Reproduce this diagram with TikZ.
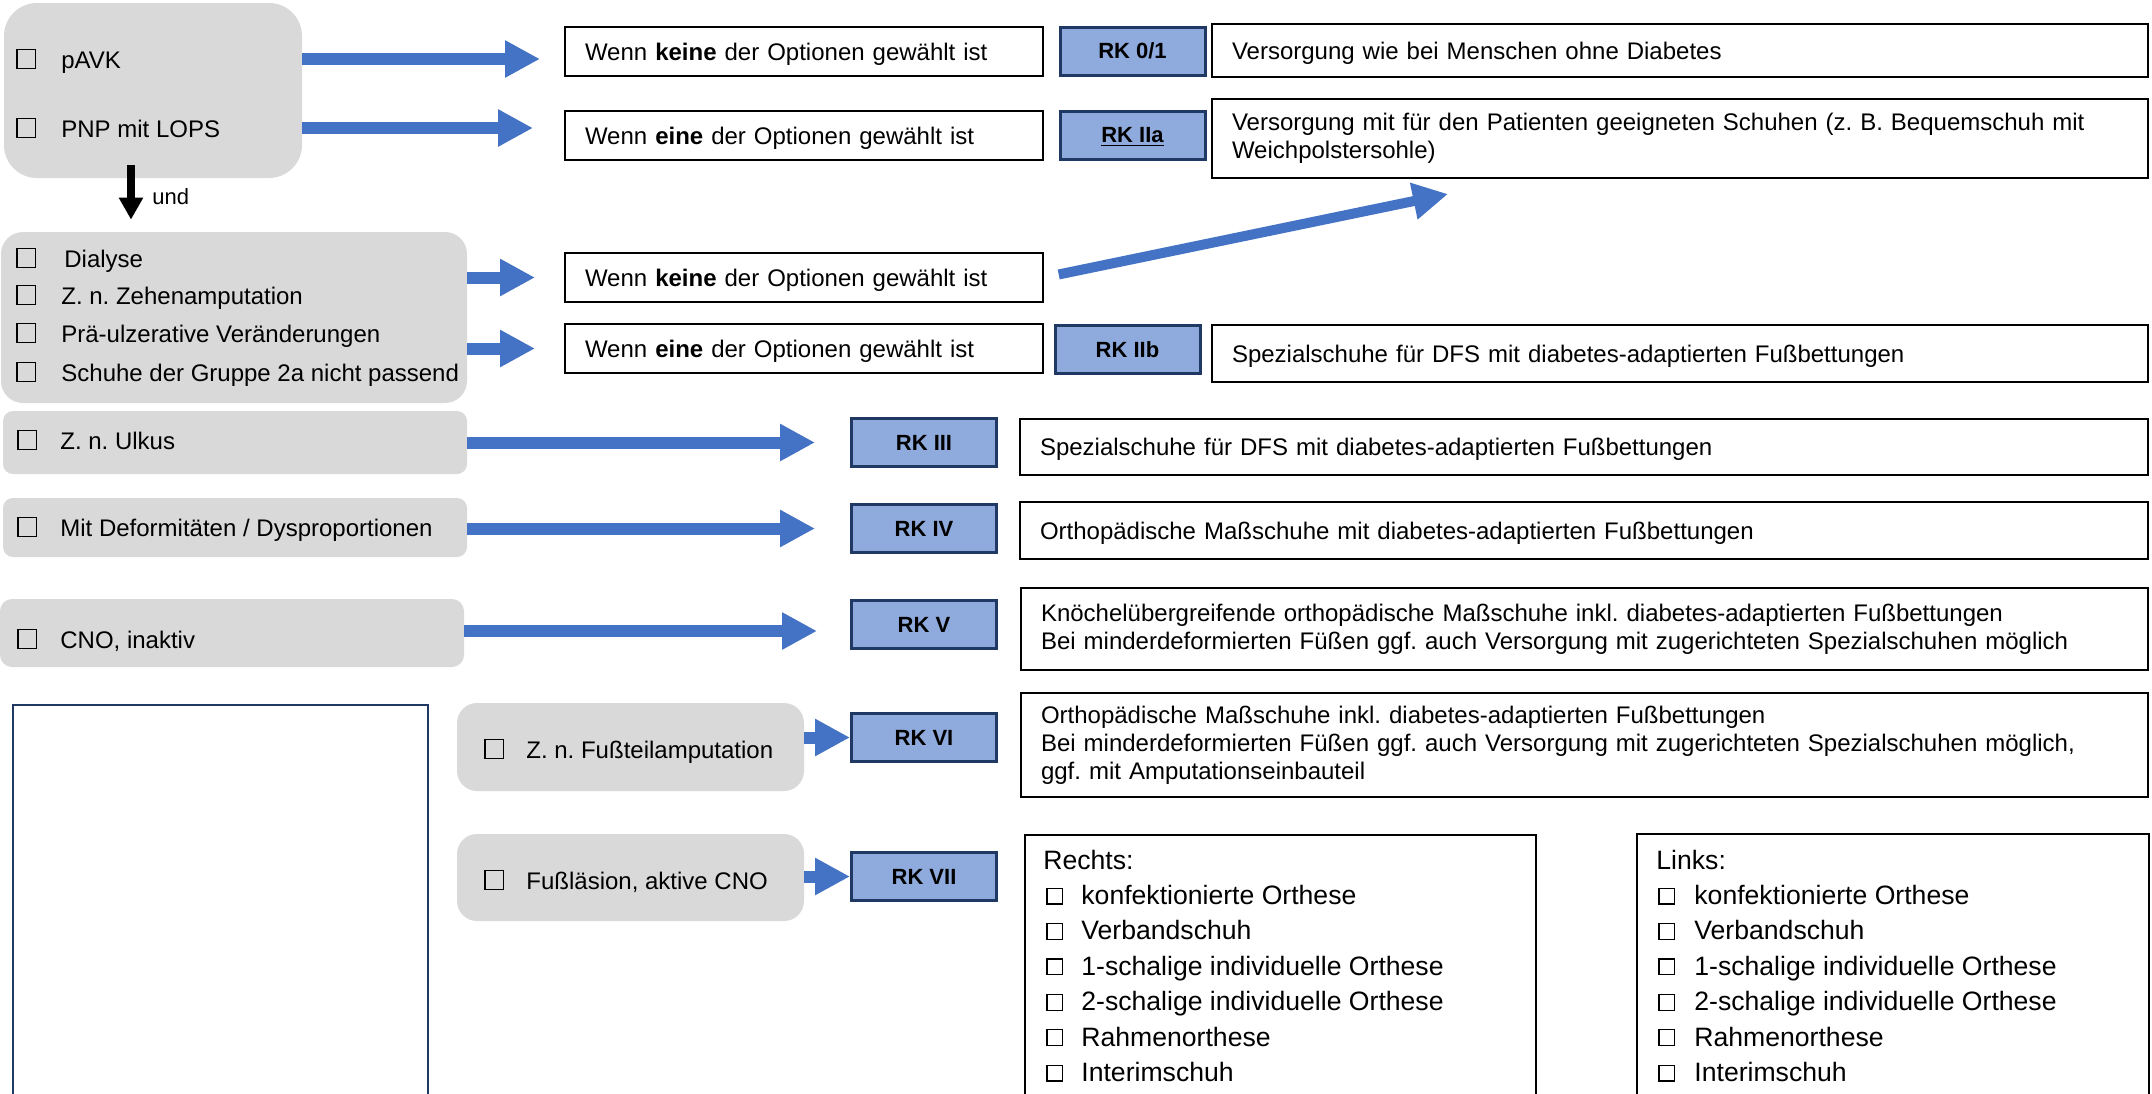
\documentclass[tikz,border=0pt]{standalone}
\usepackage{fontspec}
\setmainfont{Liberation Sans}
\usepackage{tikz}
\usepackage{xcolor}
\usetikzlibrary{arrows.meta}

\definecolor{panelgray}{HTML}{D9D9D9}
\definecolor{flowblue}{HTML}{4472C4}
\definecolor{rkfill}{HTML}{8FAADC}
\definecolor{rkline}{HTML}{1F3864}

\newcommand{\chk}[1][10pt]{{\setlength{\fboxsep}{0pt}\setlength{\fboxrule}{0.6pt}\fbox{\rule{0pt}{\dimexpr#1-1.2pt\relax}\hspace{\dimexpr#1-1.2pt\relax}}}}

\tikzset{
  panel/.style={fill=panelgray, rounded corners=#1, inner sep=0pt},
  optline/.style={anchor=base west, inner sep=0pt, text height=10pt, text depth=1pt},
  listopt/.style={anchor=base west, inner sep=0pt, font=\fontsize{13.3}{16}\selectfont},
  infobox/.style={draw, line width=1pt, inner xsep=10pt, inner ysep=0pt, text width=#1, align=left},
  oneline/.style={infobox=#1, text depth=0pt},
  rkbox/.style={draw=rkline, fill=rkfill, line width=1.5pt, minimum width=72.5pt, minimum height=24pt, inner sep=0pt, text depth=0pt, font=\fontsize{11}{13}\selectfont\bfseries},
  flow/.style={draw=flowblue, line width=6pt, -{Triangle[length=17.5pt, width=17.5pt]}},
}

\frenchspacing
\begin{document}
\begin{tikzpicture}[x=0.5pt, y=-0.5pt, font=\fontsize{12}{14}\selectfont]
  \useasboundingbox (0,0) rectangle (2152,1093);
  \clip (0,0) rectangle (2152,1093);

  % Risikogruppen links
  \node[panel=16.5pt, minimum width=149pt, minimum height=87.5pt] (top) at (153,90.5) {};
  \node[optline] (pavk) at (16,68) {\chk\hspace{12.5pt}pAVK};
  \node[optline] (pnp) at (16,137) {\chk\hspace{12.5pt}PNP mit LOPS};

  \node[panel=11pt, minimum width=233pt, minimum height=85.5pt] (risk) at (234,317.5) {};
  \node[optline] (dialyse) at (16,267) {\chk\hspace{14pt}Dialyse};
  \node[optline] (zehen) at (16,304) {\chk\hspace{12.5pt}Z. n. Zehenamputation};
  \node[optline] (praeulz) at (16,342) {\chk\hspace{12.5pt}Prä-ulzerative Veränderungen};
  \node[optline] (schuhe) at (16,381) {\chk\hspace{12.5pt}Schuhe der Gruppe 2a nicht passend};

  \node[panel=5pt, minimum width=232pt, minimum height=31.5pt] (ulkus) at (235,442.5) {};
  \node[optline] (ulkusopt) at (17,449) {\chk\hspace{11.5pt}Z. n. Ulkus};
  \node[panel=5pt, minimum width=232pt, minimum height=29.5pt] (deform) at (235,527.5) {};
  \node[optline] (deformopt) at (17,536) {\chk\hspace{11.5pt}Mit Deformitäten / Dysproportionen};
  \node[panel=6pt, minimum width=232pt, minimum height=34pt] (cno) at (232,633) {};
  \node[optline] (cnoopt) at (17,648) {\chk\hspace{11.5pt}CNO, inaktiv};

  \node[draw=rkline, line width=1pt, anchor=north west, minimum width=207.5pt, minimum height=220pt, inner sep=0pt] (blank) at (12,704) {};
  \node[panel=10pt, minimum width=173.5pt, minimum height=44pt] (fussteil) at (630.5,747) {};
  \node[optline] (fussteilopt) at (484,758) {\chk\hspace{11pt}Z. n. Fußteilamputation};
  \node[panel=10pt, minimum width=173.5pt, minimum height=43.5pt] (laesion) at (630.5,877.5) {};
  \node[optline] (laesionopt) at (484,889) {\chk\hspace{11pt}Fußläsion, aktive CNO};

  % Bedingungen
  \node[oneline=219pt, minimum height=24.5pt] (ifnone1) at (804,51.5) {Wenn \textbf{keine} der Optionen gewählt ist};
  \node[oneline=219pt, minimum height=24.5pt] (ifone1) at (804,135.5) {Wenn \textbf{eine} der Optionen gewählt ist};
  \node[oneline=219pt, minimum height=24.5pt] (ifnone2) at (804,277.5) {Wenn \textbf{keine} der Optionen gewählt ist};
  \node[oneline=219pt, minimum height=24.5pt] (ifone2) at (804,348.5) {Wenn \textbf{eine} der Optionen gewählt ist};

  % Risikoklassen
  \node[rkbox] (rkzero) at (1132.5,51) {RK 0/1};
  \node[rkbox] (rk2a) at (1132.5,135) {\underline{RK IIa}};
  \node[rkbox] (rk2b) at (1127.5,349.5) {RK IIb};
  \node[rkbox] (rk3) at (924,442.5) {RK III};
  \node[rkbox] (rk4) at (924,528.5) {RK IV};
  \node[rkbox] (rk5) at (924,624.5) {RK V};
  \node[rkbox] (rk6) at (924,737.5) {RK VI};
  \node[rkbox] (rk7) at (924,876.5) {RK VII};

  % Versorgung
  \node[oneline=448pt, minimum height=26.5pt] (carezero) at (1680,50.5) {Versorgung wie bei Menschen ohne Diabetes};
  \node[infobox=448pt, minimum height=39.5pt] (care2a) at (1680,138.5) {Versorgung mit für den Patienten geeigneten Schuhen (z. B. Bequemschuh mit\\Weichpolstersohle)};
  \node[oneline=448pt, minimum height=28.5pt] (care2b) at (1680,353.5) {Spezialschuhe für DFS mit diabetes-adaptierten Fußbettungen};
  \node[oneline=544pt, minimum height=28pt] (care3) at (1584,447) {Spezialschuhe für DFS mit diabetes-adaptierten Fußbettungen};
  \node[oneline=544pt, minimum height=28.5pt] (care4) at (1584,530.5) {Orthopädische Maßschuhe mit diabetes-adaptierten Fußbettungen};
  \node[infobox=543.5pt, minimum height=41pt] (care5) at (1584.5,629) {Knöchelübergreifende orthopädische Maßschuhe inkl. diabetes-adaptierten Fußbettungen\\Bei minderdeformierten Füßen ggf. auch Versorgung mit zugerichteten Spezialschuhen möglich};
  \node[infobox=543.5pt, minimum height=52pt] (care6) at (1584.5,745) {Orthopädische Maßschuhe inkl. diabetes-adaptierten Fußbettungen\\Bei minderdeformierten Füßen ggf. auch Versorgung mit zugerichteten Spezialschuhen möglich,\\ggf. mit Amputationseinbauteil};

  \node[draw, line width=1pt, anchor=north west, minimum width=255.5pt, minimum height=160pt, inner sep=0pt] (rechtsbox) at (1024,834) {};
  \node[listopt] (rechts) at (1043,869) {Rechts:};
  \foreach \t [count=\i] in {konfektionierte Orthese, Verbandschuh, 1-schalige individuelle Orthese, 2-schalige individuelle Orthese, Rahmenorthese, Interimschuh}
    \node[listopt] (rechts\i) at (1046,869+35.4*\i) {\raisebox{0.5pt}{\chk[8.5pt]}\hspace{9pt}\t};
  \node[draw, line width=1pt, anchor=north west, minimum width=256pt, minimum height=160pt, inner sep=0pt] (linksbox) at (1636,833) {};
  \node[listopt] (links) at (1656,869) {Links:};
  \foreach \t [count=\i] in {konfektionierte Orthese, Verbandschuh, 1-schalige individuelle Orthese, 2-schalige individuelle Orthese, Rahmenorthese, Interimschuh}
    \node[listopt] (links\i) at (1658,869+35.4*\i) {\raisebox{0.5pt}{\chk[8.5pt]}\hspace{9.5pt}\t};

  % Pfeile
  \draw[flow, shorten >=12pt] (top.east |- pavk) -- (ifnone1.west |- pavk);
  \draw[flow, shorten >=15.5pt] (top.east |- pnp) -- (ifone1.west |- pnp);
  \draw[line width=4pt, -{Triangle[length=11pt, width=11.5pt]}, shorten >=6pt] ([xshift=-11pt, yshift=6.5pt]top.south) -- ([xshift=-11pt]top.south |- risk.north);
  \node[anchor=west, inner sep=0pt, font=\fontsize{11}{13}\selectfont] (und) at (152,197) {und};
  \draw[flow, shorten >=14.5pt] (risk.east |- ifnone2) -- (ifnone2.west);
  \draw[flow, shorten >=14.5pt] (risk.east |- ifone2) -- (ifone2.west);
  \coordinate (diagtip) at (1448,194);
  \draw[flow, line width=5pt, shorten <=7.5pt] (ifnone2.east) -- (diagtip);
  \draw[flow, shorten >=17.5pt] (ulkus.east |- rk3) -- (rk3.west);
  \draw[flow, shorten >=17.5pt] (deform.east |- rk4) -- (rk4.west);
  \draw[flow, shorten >=16.5pt] ([yshift=1pt]cno.east) -- ([yshift=1pt]cno.east -| rk5.west);
  \draw[flow] (fussteil.east |- rk6) -- (rk6.west);
  \draw[flow] (laesion.east |- rk7) -- (rk7.west);
\end{tikzpicture}
\end{document}
